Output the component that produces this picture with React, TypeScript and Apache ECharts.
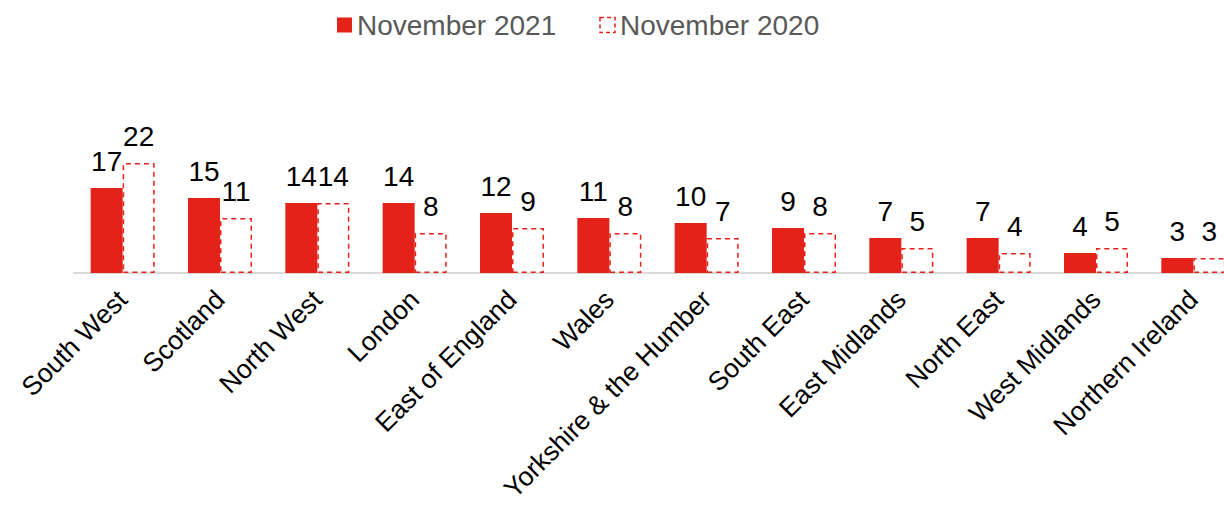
import React, { useEffect, useRef } from "react";
import * as echarts from "echarts";

const categories = [
  "South West",
  "Scotland",
  "North West",
  "London",
  "East of England",
  "Wales",
  "Yorkshire & the Humber",
  "South East",
  "East Midlands",
  "North East",
  "West Midlands",
  "Northern Ireland",
];
const nov2021 = [17, 15, 14, 14, 12, 11, 10, 9, 7, 7, 4, 3];
const nov2020 = [22, 11, 14, 8, 9, 8, 7, 8, 5, 4, 5, 3];

const RED = "#E32219";
const FONT = "Liberation Sans, Arial, sans-serif";

export default function App() {
  const ref = useRef<HTMLDivElement>(null);
  useEffect(() => {
    if (!ref.current) return;
    const chart = echarts.init(ref.current, undefined, { renderer: "svg" });
    const labelStyle = {
      show: true,
      position: "top" as const,
      distance: 13,
      color: "#000",
      fontSize: 28,
      fontFamily: FONT,
    };
    chart.setOption({
      animation: false,
      textStyle: { fontFamily: FONT },
      legend: {
        top: 6,
        left: 332,
        itemWidth: 15,
        itemHeight: 15,
        itemGap: 43,
        icon: "rect",
        textStyle: { fontSize: 28, color: "#595959", fontFamily: FONT },
        data: [
          { name: "November 2021" },
          {
            name: "November 2020",
            itemStyle: { color: "#FFFFFF", borderColor: RED, borderWidth: 1.5, borderType: [4, 3] },
          },
        ],
      },
      grid: {
        left: 74,
        right: 0,
        top: 123,
        bottom: 235,
        containLabel: false,
        outerBoundsMode: "none",
      },
      xAxis: {
        type: "category",
        data: categories,
        axisLine: { lineStyle: { color: "#D9D9D9", width: 2 } },
        axisTick: { show: false },
        axisLabel: {
          rotate: 45,
          interval: 0,
          margin: 22,
          color: "#000",
          fontSize: 26.5,
          fontFamily: FONT,
        },
      },
      yAxis: {
        type: "value",
        min: 0,
        max: 30,
        show: false,
        splitLine: { show: false },
      },
      series: [
        {
          name: "November 2021",
          type: "bar",
          data: nov2021,
          barWidth: 32,
          barGap: "0%",
          itemStyle: { color: RED },
          label: labelStyle,
        },
        {
          name: "November 2020",
          type: "bar",
          data: nov2020,
          barWidth: 32,
          barGap: "0%",
          itemStyle: {
            color: "#FFFFFF",
            borderColor: RED,
            borderWidth: 1.5,
            borderType: [5, 4],
          },
          label: labelStyle,
        },
      ],
    });
    return () => chart.dispose();
  }, []);
  return (
    <div
      style={{
        position: "fixed",
        left: 0,
        top: 0,
        width: 1224,
        height: 508,
        overflow: "hidden",
        background: "#fff",
      }}
    >
      <div ref={ref} style={{ width: 1242, height: 508 }} />
    </div>
  );
}
